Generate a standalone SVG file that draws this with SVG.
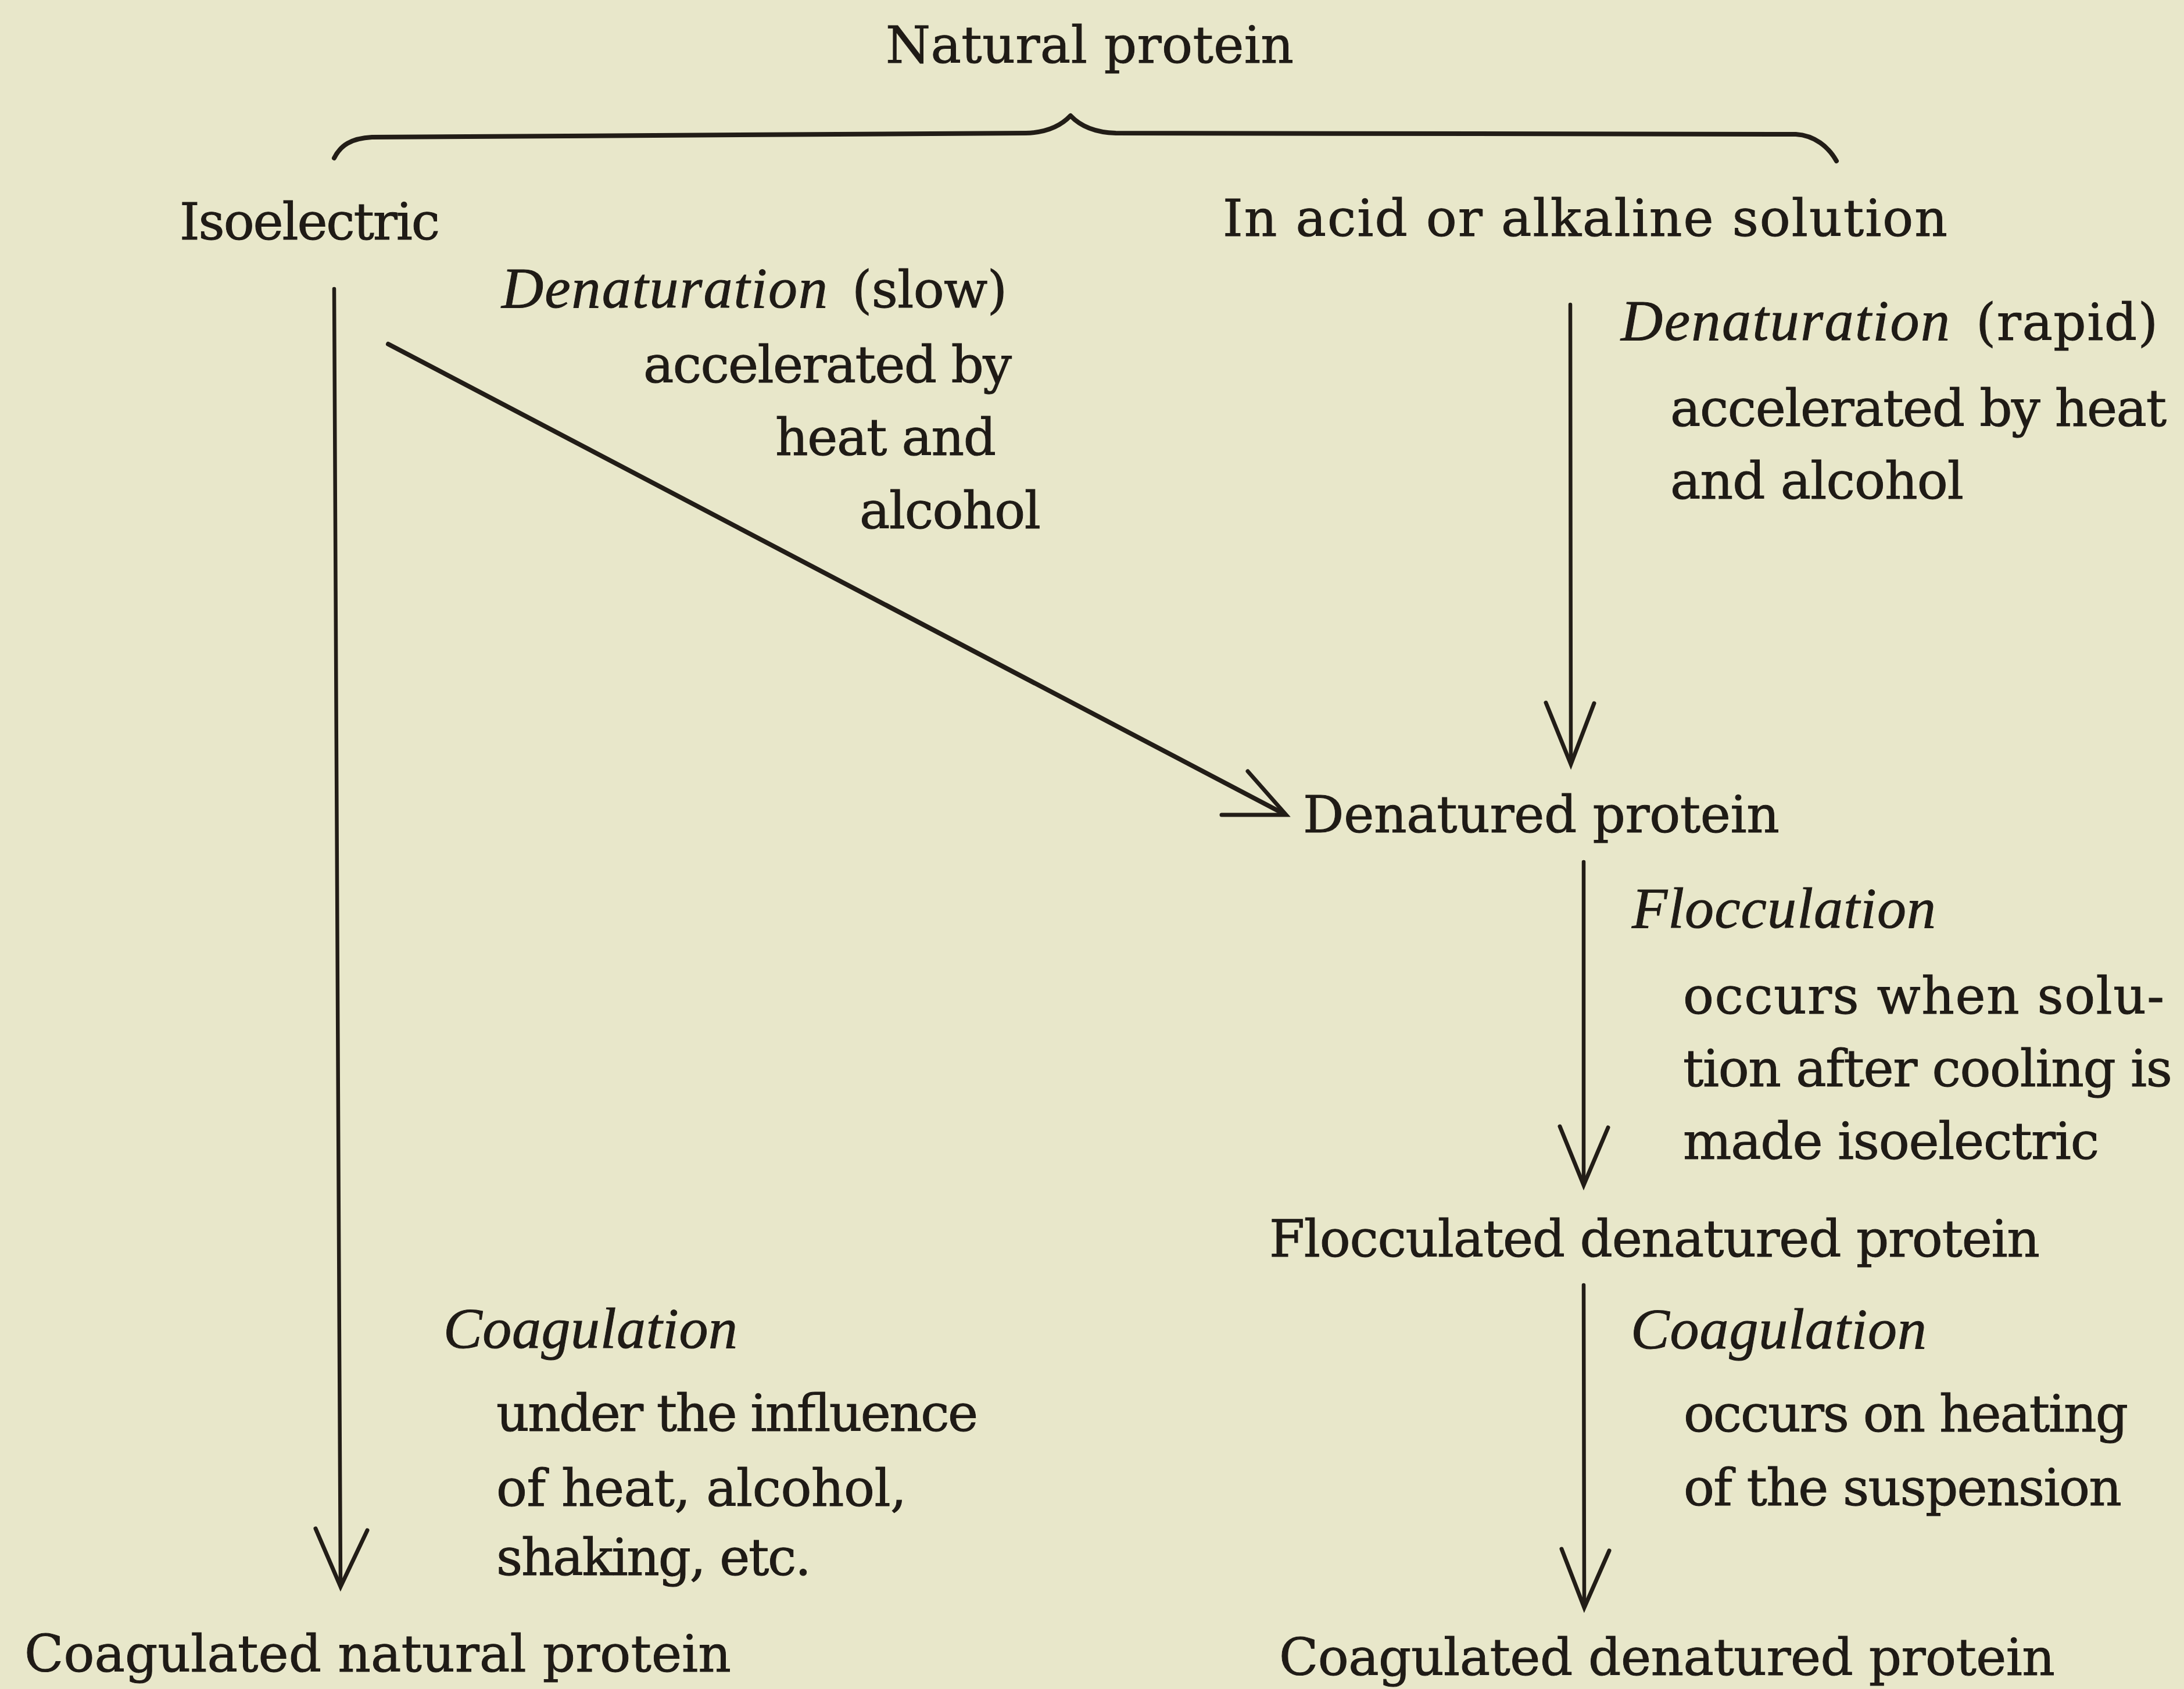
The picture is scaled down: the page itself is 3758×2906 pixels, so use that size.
<svg xmlns="http://www.w3.org/2000/svg" width="3758" height="2906" viewBox="0 0 3758 2906">
<style>
.r{font-family:"DejaVu Serif","Liberation Serif",serif;font-size:88px;fill:#1f1b16;stroke:#1f1b16;stroke-width:1}
.i{font-family:"Liberation Serif",serif;font-style:italic;font-size:100px;fill:#1f1b16;stroke:#1f1b16;stroke-width:1}
.ln{stroke:#221d17;stroke-width:6.5;fill:none;stroke-linecap:round;stroke-linejoin:round}
.hd{stroke:#221d17;stroke-width:7;fill:none;stroke-linecap:round;stroke-linejoin:miter}
</style>
<rect x="0" y="0" width="3758" height="2906" fill="#e8e7ca"/>

<g id="connectors">
  <path id="brace" class="ln" style="stroke-width:8" d="M575,272 C586,250 604,238 640,236 L1765,229 C1802,228 1826,216 1842,199 C1858,216 1884,228 1920,229 L3090,231 C3122,233 3146,252 3160,277"/>
  <g id="e-iso-coag">
    <path class="ln" d="M575,497 L586,2728"/>
    <path class="hd" d="M543,2630 L586,2730 L632,2633"/>
  </g>
  <g id="e-iso-denat">
    <path class="ln" style="stroke-width:8" d="M668,592 L2205,1398"/>
    <path class="hd" d="M2147,1327 L2213,1402 L2102,1402"/>
  </g>
  <g id="e-acid-denat">
    <path class="ln" d="M2702,524 L2703,1312"/>
    <path class="hd" d="M2660,1209 L2703,1315 L2743,1210"/>
  </g>
  <g id="e-denat-floc">
    <path class="ln" d="M2725,1483 L2725,2036"/>
    <path class="hd" d="M2684,1938 L2725,2039 L2767,1940"/>
  </g>
  <g id="e-floc-coag">
    <path class="ln" d="M2725,2211 L2726,2763"/>
    <path class="hd" d="M2687,2665 L2726,2766 L2769,2668"/>
  </g>
</g>

<g id="node-natural-protein">
  <text class="r" x="1524" y="108" textLength="702">Natural protein</text>
</g>
<g id="node-isoelectric">
  <text class="r" x="309" y="412" textLength="448">Isoelectric</text>
</g>
<g id="node-acid-alkaline">
  <text class="r" x="2104" y="406" textLength="1247">In acid or alkaline solution</text>
</g>
<g id="label-denaturation-slow">
  <text class="i" x="863" y="529" textLength="561">Denaturation</text>
  <text class="r" x="1466" y="529" textLength="267">(slow)</text>
  <text class="r" x="1107" y="658" textLength="634">accelerated by</text>
  <text class="r" x="1334" y="783" textLength="380">heat and</text>
  <text class="r" x="1479" y="909" textLength="312">alcohol</text>
</g>
<g id="label-denaturation-rapid">
  <text class="i" x="2789" y="585" textLength="566">Denaturation</text>
  <text class="r" x="3400" y="585" textLength="313">(rapid)</text>
  <text class="r" x="2874" y="733" textLength="854">accelerated by heat</text>
  <text class="r" x="2874" y="858" textLength="505">and alcohol</text>
</g>
<g id="node-denatured-protein">
  <text class="r" x="2242" y="1432" textLength="820">Denatured protein</text>
</g>
<g id="label-flocculation">
  <text class="i" x="2808" y="1596" textLength="523">Flocculation</text>
  <text class="r" x="2896" y="1744" textLength="828">occurs when solu-</text>
  <text class="r" x="2896" y="1869" textLength="842">tion after cooling is</text>
  <text class="r" x="2896" y="1994" textLength="716">made isoelectric</text>
</g>
<g id="node-flocculated-denatured-protein">
  <text class="r" x="2184" y="2162" textLength="1326">Flocculated denatured protein</text>
</g>
<g id="label-coagulation-right">
  <text class="i" x="2806" y="2320" textLength="509">Coagulation</text>
  <text class="r" x="2897" y="2463" textLength="765">occurs on heating</text>
  <text class="r" x="2897" y="2590" textLength="754">of the suspension</text>
</g>
<g id="node-coagulated-denatured-protein">
  <text class="r" x="2201" y="2882" textLength="1335">Coagulated denatured protein</text>
</g>
<g id="label-coagulation-left">
  <text class="i" x="763" y="2319" textLength="506">Coagulation</text>
  <text class="r" x="854" y="2462" textLength="829">under the influence</text>
  <text class="r" x="854" y="2591" textLength="706">of heat, alcohol,</text>
  <text class="r" x="854" y="2710" textLength="542">shaking, etc.</text>
</g>
<g id="node-coagulated-natural-protein">
  <text class="r" x="42" y="2876" textLength="1216">Coagulated natural protein</text>
</g>
</svg>
